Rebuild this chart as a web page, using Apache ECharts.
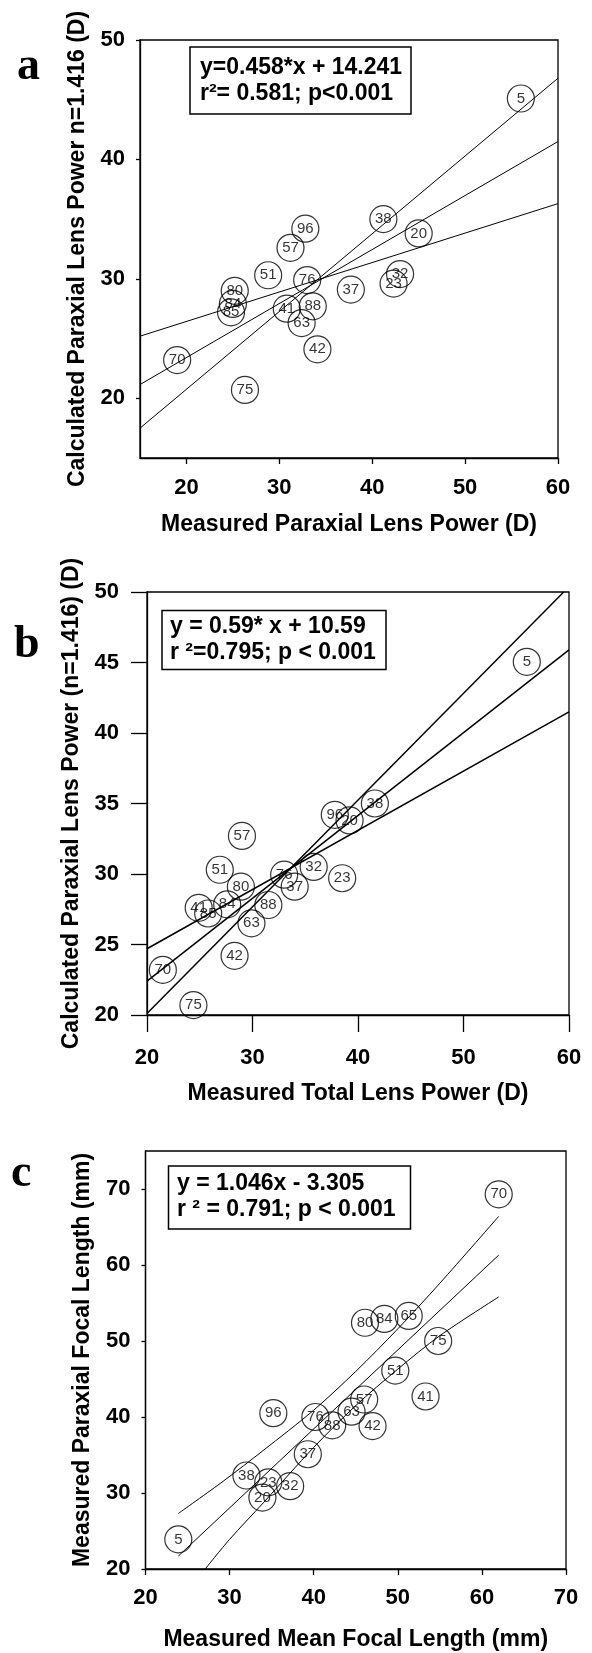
<!DOCTYPE html>
<html>
<head>
<meta charset="utf-8">
<script src="https://cdn.jsdelivr.net/npm/echarts@6/dist/echarts.min.js"></script>
<style>
html, body { margin: 0; padding: 0; background: #fff; }
#main { width: 592px; height: 1653px; }
</style>
</head>
<body>
<div id="main"></div>
<script>
// ---- panel a : measured vs calculated paraxial lens power
var aIds = ['5', '38', '20', '96', '57', '51', '76', '32', '23', '37', '80', '84', '85', '41', '88', '63', '42', '70', '75'];
var aMeasured = [56.0, 41.2, 45.0, 32.8, 31.2, 28.8, 33.0, 43.0, 42.3, 37.7, 25.2, 25.0, 24.8, 30.8, 33.6, 32.4, 34.1, 19.0, 26.3];
var aCalculated = [45.1, 35.0, 33.8, 34.2, 32.6, 30.3, 29.9, 30.4, 29.6, 29.1, 29.0, 27.9, 27.2, 27.5, 27.7, 26.3, 24.1, 23.2, 20.7];
var aLineX = [15, 60];
var aFit = [21.15, 41.5];
var aFlat = [25.2, 36.3];
var aSteep = [17.5, 46.8];
var aXTicks = [20, 30, 40, 50, 60];
var aYTicks = [20, 30, 40, 50];

// ---- panel b : total lens power vs calculated paraxial power
var bIds = ['5', '38', '96', '20', '57', '51', '76', '32', '23', '37', '80', '84', '41', '85', '88', '63', '42', '70', '75'];
var bMeasured = [56.0, 41.6, 37.8, 39.2, 29.0, 26.9, 33.0, 35.8, 38.5, 34.0, 28.9, 27.6, 24.9, 25.8, 31.5, 29.9, 28.3, 21.5, 24.4];
var bCalculated = [45.05, 35.0, 34.2, 33.8, 32.7, 30.3, 29.95, 30.5, 29.7, 29.1, 29.1, 27.85, 27.6, 27.2, 27.8, 26.5, 24.2, 23.2, 20.7];
var bLineX = [20, 60];
var bFit = [22.4, 45.9];
var bFlat = [24.7, 41.5];
var bSteepX = [20, 59.5];
var bSteep = [20.1, 50];
var bXTicks = [20, 30, 40, 50, 60];
var bYTicks = [20, 25, 30, 35, 40, 45, 50];

// ---- panel c : mean focal length vs paraxial focal length
var cIds = ['70', '80', '84', '65', '75', '51', '41', '57', '63', '42', '96', '76', '88', '37', '38', '23', '32', '20', '5'];
var cMean = [62.0, 46.1, 48.4, 51.3, 54.8, 49.7, 53.3, 46.0, 44.5, 47.0, 35.2, 40.2, 42.2, 39.3, 32.0, 34.6, 37.2, 33.9, 23.9];
var cParaxial = [69.3, 52.4, 52.9, 53.3, 50.0, 46.1, 42.7, 42.3, 40.7, 38.8, 40.5, 40.0, 38.9, 35.1, 32.3, 31.4, 30.9, 29.4, 23.9];
var cFitX = [23.9, 62];
var cFit = [21.7, 61.3];
var cUpperX = [23.9, 29.3, 34, 40, 45, 50, 55, 62];
var cUpper = [27.3, 31.6, 35.6, 40.9, 46.0, 51.6, 57.6, 66.4];
var cLowerX = [27.1, 30, 34, 40, 45, 50, 55, 62];
var cLower = [20, 23.9, 28.7, 36.0, 41.5, 46.3, 50.7, 55.8];
var cXTicks = [20, 30, 40, 50, 60, 70];
var cYTicks = [20, 30, 40, 50, 60, 70];

var sans = '"Liberation Sans", Arial, sans-serif';
var serif = '"Liberation Serif", "Times New Roman", serif';

function pairs(xs, ys, ids) {
  return xs.map(function (x, i) { return ids ? [x, ys[i], ids[i]] : [x, ys[i]]; });
}

function axisOf(idx, min, max, ticks, tickLen, margin, name, gap) {
  return {
    gridIndex: idx, type: 'value', min: min, max: max,
    axisLine: { show: true, onZero: false, lineStyle: { color: '#000', width: 1.3 } },
    axisTick: { show: true, length: tickLen, customValues: ticks, lineStyle: { color: '#000', width: 1.3 } },
    axisLabel: { customValues: ticks, margin: margin, color: '#000', fontSize: 22, fontWeight: 'bold', fontFamily: sans },
    splitLine: { show: false },
    name: name, nameLocation: 'middle', nameGap: gap,
    nameTextStyle: { color: '#000', fontSize: 23, fontWeight: 'bold', fontFamily: sans }
  };
}

function circles(idx, xs, ys, ids) {
  return {
    type: 'scatter', xAxisIndex: idx, yAxisIndex: idx,
    symbol: 'circle', symbolSize: 27,
    itemStyle: { color: 'rgba(0,0,0,0)', borderColor: '#000', borderWidth: 1.2 },
    label: {
      show: true, position: 'inside', color: '#000', fontSize: 15, fontFamily: sans,
      formatter: function (p) { return p.data[2]; }
    },
    emphasis: { disabled: true },
    data: pairs(xs, ys, ids)
  };
}

function line(idx, xs, ys, width, smooth) {
  return {
    type: 'line', xAxisIndex: idx, yAxisIndex: idx,
    symbol: 'none', smooth: smooth || false, silent: true,
    lineStyle: { color: '#000', width: width },
    data: pairs(xs, ys)
  };
}

function eqBox(x, y, w, h, tx, ty, text) {
  return {
    type: 'group',
    children: [
      { type: 'rect', shape: { x: x, y: y, width: w, height: h },
        style: { fill: '#fff', stroke: '#000', lineWidth: 1.5 }, z: 10 },
      { type: 'text', x: tx, y: ty, z: 11,
        style: { text: text, font: 'bold 23px ' + sans, fill: '#000', lineHeight: 26,
                 textAlign: 'left', textVerticalAlign: 'middle' } }
    ]
  };
}

function letter(x, y, t) {
  return { type: 'text', x: x, y: y,
    style: { text: t, font: 'bold 46px ' + serif, fill: '#000', textAlign: 'left', textVerticalAlign: 'middle' } };
}

var myChart = echarts.init(document.getElementById('main'));

var option = {
  animation: false,
  backgroundColor: '#fff',
  grid: [
    { left: 140, top: 40, width: 418, height: 418, show: true, borderColor: '#000', borderWidth: 1.3 },
    { left: 147, top: 592, width: 422, height: 423, show: true, borderColor: '#000', borderWidth: 1.3 },
    { left: 145.5, top: 1151, width: 420.5, height: 418, show: true, borderColor: '#000', borderWidth: 1.3 }
  ],
  xAxis: [
    axisOf(0, 15, 60, aXTicks, 6, 19, 'Measured Paraxial Lens Power (D)', 55),
    axisOf(1, 20, 60, bXTicks, 17, 32, 'Measured Total Lens Power (D)', 67),
    axisOf(2, 20, 70, cXTicks, 6, 18, 'Measured Mean Focal Length (mm)', 59)
  ],
  yAxis: [
    axisOf(0, 15, 50, aYTicks, 4, 15, 'Calculated Paraxial Lens Power n=1.416 (D)', 51),
    axisOf(1, 20, 50, bYTicks, 16, 28, 'Calculated Paraxial Lens Power (n=1.416) (D)', 61),
    axisOf(2, 20, 75, cYTicks, 4, 15, 'Measured Paraxial Focal Length (mm)', 51)
  ],
  series: [
    line(0, aLineX, aFit, 1),
    line(0, aLineX, aFlat, 1),
    line(0, aLineX, aSteep, 1),
    circles(0, aMeasured, aCalculated, aIds),
    line(1, bLineX, bFit, 1.5),
    line(1, bLineX, bFlat, 1.5),
    line(1, bSteepX, bSteep, 1.5),
    circles(1, bMeasured, bCalculated, bIds),
    line(2, cFitX, cFit, 1),
    line(2, cUpperX, cUpper, 1, 0.3),
    line(2, cLowerX, cLower, 1, 0.3),
    circles(2, cMean, cParaxial, cIds)
  ],
  graphic: [
    letter(17, 67, 'a'),
    letter(14, 645, 'b'),
    letter(11, 1174, 'c'),
    eqBox(190, 47, 221, 67, 200, 81, 'y=0.458*x + 14.241\nr\u00b2= 0.581; p<0.001'),
    eqBox(162, 610.5, 224, 59, 170, 640, 'y = 0.59* x + 10.59\nr \u00b2=0.795; p < 0.001'),
    eqBox(168.5, 1166, 242, 63, 177, 1197, 'y = 1.046x - 3.305\nr \u00b2 = 0.791; p < 0.001')
  ]
};

option && myChart.setOption(option);
</script>
</body>
</html>
